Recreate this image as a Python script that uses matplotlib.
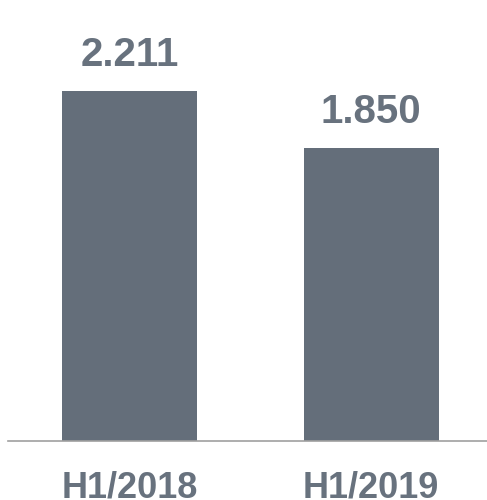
import matplotlib.pyplot as plt

categories = ['H1/2018', 'H1/2019']
values = [2.211, 1.850]
labels = ['2.211', '1.850']

plt.rcParams['font.family'] = ['Liberation Sans', 'DejaVu Sans']

fig = plt.figure(figsize=(4.87, 5), dpi=100)
ax = fig.add_axes([8 / 487, 59 / 500, 479 / 487, 441 / 500])

bar_color = '#646e7a'
text_color = '#68727e'
x = range(len(categories))
bars = ax.bar(x, values, width=0.559, color=bar_color)

for b, lab in zip(bars, labels):
    ax.annotate(lab, (b.get_x() + b.get_width() / 2, b.get_height()),
                xytext=(0, 12), textcoords='offset points',
                ha='center', va='bottom', fontsize=29, fontweight='bold',
                color=text_color)

ax.set_xlim(-0.503, 1.48)
ax.set_ylim(0, 2.786)

for s in ['top', 'right', 'left']:
    ax.spines[s].set_visible(False)
ax.spines['bottom'].set_color('#a0a0a0')
ax.spines['bottom'].set_linewidth(1.2)
ax.set_yticks([])
ax.set_xticks(list(x))
ax.set_xticklabels(categories, fontsize=26, fontweight='bold', color=text_color)
ax.tick_params(axis='x', length=0, pad=21)

fig.savefig('out.png', dpi=100)
